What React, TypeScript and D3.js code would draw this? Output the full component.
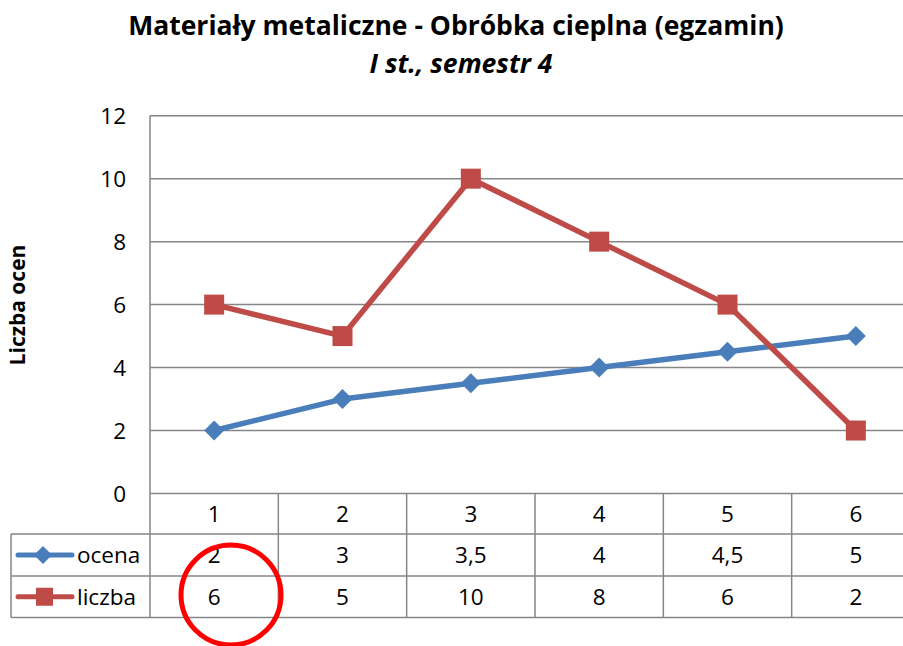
import React from 'react';
import * as d3 from 'd3';

const categories = ['1', '2', '3', '4', '5', '6'];
const ocena = [2, 3, 3.5, 4, 4.5, 5];
const liczba = [6, 5, 10, 8, 6, 2];
const ocenaLabels = ['2', '3', '3,5', '4', '4,5', '5'];
const liczbaLabels = ['6', '5', '10', '8', '6', '2'];
const yTicks = [0, 2, 4, 6, 8, 10, 12];

const W = 903;
const H = 646;
const FONT = '"Open Sans", sans-serif';
const GRID = '#868686';
const BLUE = '#4A7EBB';
const RED = '#BE4B48';

export default function App() {
  const x = d3.scaleBand<string>().domain(categories).range([150, 920]).padding(0);
  const y = d3.scaleLinear().domain([0, 12]).range([493.5, 115.7]);
  const cx = (c: string) => (x(c) as number) + x.bandwidth() / 2;

  const line = d3.line<number>()
    .x((_, i) => cx(categories[i]))
    .y(d => y(d));

  const row1 = 534;
  const row2 = 576;
  const row3 = 617.5;
  const fs = 22.5;

  return (
    <svg width={W} height={H} style={{ position: 'absolute', left: 0, top: 0, background: '#fff' }}>
      <text x={456} y={35} textAnchor="middle" fontFamily={FONT} fontWeight="bold" fontSize={26.5}>
        Materiały metaliczne - Obróbka cieplna (egzamin)
      </text>
      <text x={461} y={73} textAnchor="middle" fontFamily={FONT} fontWeight="bold" fontStyle="italic" fontSize={26.5}>
        I st., semestr 4
      </text>

      {/* y axis title */}
      <text transform="translate(25,305) rotate(-90)" textAnchor="middle" fontFamily={FONT} fontWeight="bold" fontSize={21}>
        Liczba ocen
      </text>

      {/* gridlines + tick labels */}
      {yTicks.map(t => (
        <g key={t}>
          <line x1={150} x2={W} y1={y(t)} y2={y(t)} stroke={GRID} strokeWidth={1.5} />
          <text x={126} y={y(t) + 8} textAnchor="end" fontFamily={FONT} fontSize={fs}>{t}</text>
        </g>
      ))}

      {/* table */}
      <line x1={150} x2={150} y1={y(12)} y2={row3} stroke={GRID} strokeWidth={1.5} />
      {categories.map(c => (
        <line key={c} x1={(x(c) as number) + x.bandwidth()} x2={(x(c) as number) + x.bandwidth()} y1={y(0)} y2={row3} stroke={GRID} strokeWidth={1.5} />
      ))}
      <line x1={11} x2={W} y1={row1} y2={row1} stroke={GRID} strokeWidth={1.5} />
      <line x1={11} x2={W} y1={row2} y2={row2} stroke={GRID} strokeWidth={1.5} />
      <line x1={11} x2={W} y1={row3} y2={row3} stroke={GRID} strokeWidth={1.5} />
      <line x1={11} x2={11} y1={row1} y2={row3} stroke={GRID} strokeWidth={1.5} />

      {categories.map(c => (
        <text key={c} x={cx(c)} y={(y(0) + row1) / 2 + 8} textAnchor="middle" fontFamily={FONT} fontSize={fs}>{c}</text>
      ))}
      {ocenaLabels.map((v, i) => (
        <text key={'o' + i} x={cx(categories[i])} y={(row1 + row2) / 2 + 8} textAnchor="middle" fontFamily={FONT} fontSize={fs}>{v}</text>
      ))}
      {liczbaLabels.map((v, i) => (
        <text key={'l' + i} x={cx(categories[i])} y={(row2 + row3) / 2 + 8} textAnchor="middle" fontFamily={FONT} fontSize={fs}>{v}</text>
      ))}

      {/* legend keys */}
      <line x1={18} x2={72} y1={(row1 + row2) / 2} y2={(row1 + row2) / 2} stroke={BLUE} strokeWidth={5} strokeLinecap="round" />
      <path d={`M43,${(row1 + row2) / 2 - 9}l9,9l-9,9l-9,-9z`} fill={BLUE} />
      <text x={77} y={(row1 + row2) / 2 + 8} fontFamily={FONT} fontSize={fs}>ocena</text>
      <line x1={18} x2={72} y1={(row2 + row3) / 2} y2={(row2 + row3) / 2} stroke={RED} strokeWidth={5} strokeLinecap="round" />
      <rect x={36} y={(row2 + row3) / 2 - 9} width={17} height={18} fill={RED} />
      <text x={77} y={(row2 + row3) / 2 + 8} fontFamily={FONT} fontSize={fs}>liczba</text>

      {/* series */}
      <path d={line(ocena) as string} fill="none" stroke={BLUE} strokeWidth={5.5} strokeLinejoin="round" />
      {ocena.map((v, i) => (
        <path key={'od' + i} d={`M${cx(categories[i])},${y(v) - 10}l10,10l-10,10l-10,-10z`} fill={BLUE} />
      ))}
      <path d={line(liczba) as string} fill="none" stroke={RED} strokeWidth={5.5} strokeLinejoin="round" />
      {liczba.map((v, i) => (
        <rect key={'ls' + i} x={cx(categories[i]) - 10} y={y(v) - 10} width={20} height={20} fill={RED} />
      ))}

      {/* red annotation circle */}
      <circle cx={231} cy={595} r={50} fill="none" stroke="#FF0000" strokeWidth={5} />
    </svg>
  );
}
